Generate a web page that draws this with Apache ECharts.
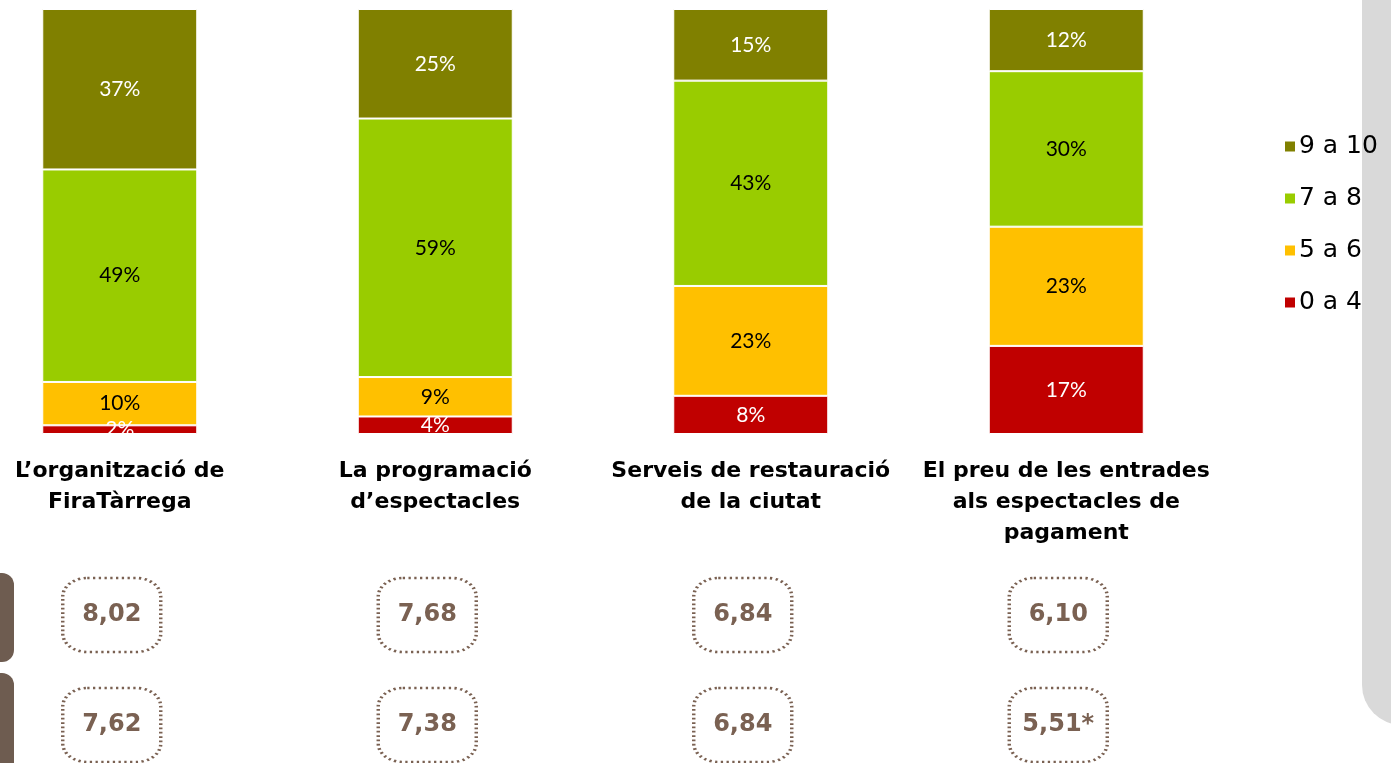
<!DOCTYPE html>
<html>
<head>
<meta charset="utf-8">
<script src="https://cdn.jsdelivr.net/npm/echarts@6/dist/echarts.min.js"></script>
<style>
  html, body { margin: 0; padding: 0; background: #fff; }
  #chart { width: 1391px; height: 763px; }
</style>
</head>
<body>
<div id="chart"></div>
<script>
// categories and series values (percent labels as shown)
var categories = [
  "L\u2019organització de\nFiraTàrrega",
  "La programació\nd\u2019espectacles",
  "Serveis de restauració\nde la ciutat",
  "El preu de les entrades\nals espectacles de\npagament"
];
var seriesNames = ["0 a 4", "5 a 6", "7 a 8", "9 a 10"];
var score0to4 = [2, 4, 8, 17];
var score5to6 = [10, 9, 23, 23];
var score7to8 = [49, 59, 43, 30];
var score9to10 = [37, 25, 15, 12];
var colors = ["#c00000", "#ffc000", "#99cc00", "#808000"];
var labelColors = ["#ffffff", "#000000", "#000000", "#ffffff"];

// average marks under each bar
var rows = ["r1", "r2"];
var meanRow1 = [8.02, 7.68, 6.84, 6.10];
var meanRow2 = [7.62, 7.38, 6.84, 5.51];
var meanRow2Notes = ["", "", "", "*"];

var FONT = "'DejaVu Sans', sans-serif";
var THIN = "Lato, 'DejaVu Sans', sans-serif";
var BROWN = "#7a6152";

var allSeries = [score0to4, score5to6, score7to8, score9to10];
var totals = categories.map(function(c, i) {
  return allSeries.reduce(function(s, arr) { return s + arr[i]; }, 0);
});

function fmtNum(v) {
  return v.toFixed(2).replace(".", ",");
}

var chart = echarts.init(document.getElementById("chart"));

var series = allSeries.map(function(arr, k) {
  return {
    name: seriesNames[k],
    type: "bar",
    stack: "total",
    barWidth: 155,
    data: arr.map(function(v, i) {
      return { value: (v / totals[i]) * 100, raw: v };
    }),
    itemStyle: { color: colors[k], borderColor: "#ffffff", borderWidth: 1 },
    label: {
      show: true,
      position: "inside",
      color: labelColors[k],
      fontFamily: THIN,
      fontSize: 21,
      textBorderWidth: 0,
      formatter: function(p) { return p.data.raw + "%"; }
    }
  };
});

var boxData = [];
meanRow1.forEach(function(v, i) {
  boxData.push({ value: [i, 0], text: fmtNum(v) });
});
meanRow2.forEach(function(v, i) {
  boxData.push({ value: [i, 1], text: fmtNum(v) + meanRow2Notes[i] });
});

series.push({
  type: "scatter",
  xAxisIndex: 1,
  yAxisIndex: 1,
  symbol: "roundRect",
  symbolSize: [98, 74],
  data: boxData,
  silent: true,
  itemStyle: {
    color: "rgba(255,255,255,0)",
    opacity: 1,
    borderColor: BROWN,
    borderWidth: 3,
    borderType: [2, 3]
  },
  label: {
    show: true,
    position: "inside",
    color: BROWN,
    textBorderWidth: 0,
    fontFamily: FONT,
    fontWeight: "bold",
    fontSize: 24,
    formatter: function(p) { return p.data.text; }
  }
});

chart.setOption({
  animation: false,
  grid: [
    { left: -38, width: 1262, top: 9, height: 425, outerBoundsMode: "none", containLabel: false },
    { left: -46, width: 1262, top: 560, height: 220, outerBoundsMode: "none", containLabel: false }
  ],
  legend: {
    orient: "vertical",
    left: 1278,
    top: 129,
    itemWidth: 12,
    itemHeight: 12,
    itemGap: 27,
    icon: "rect",
    data: ["9 a 10", "7 a 8", "5 a 6", "0 a 4"],
    textStyle: { fontFamily: FONT, fontSize: 25, color: "#000", padding: [0, 0, 0, -2] }
  },
  xAxis: [
    {
      type: "category",
      data: categories,
      gridIndex: 0,
      axisLine: { show: false },
      axisTick: { show: false },
      axisLabel: {
        interval: 0,
        margin: 22,
        fontFamily: FONT,
        fontWeight: "bold",
        fontSize: 22,
        lineHeight: 31,
        color: "#000"
      }
    },
    {
      type: "category",
      data: categories,
      gridIndex: 1,
      show: false
    }
  ],
  yAxis: [
    { type: "value", gridIndex: 0, min: 0, max: 100, show: false },
    { type: "category", gridIndex: 1, data: rows, inverse: true, show: false }
  ],
  graphic: [
    { type: "rect", left: 1362, top: -20, shape: { width: 60, height: 745, r: [0, 0, 0, 40] }, style: { fill: "#d9d9d9" }, z: -1 },
    { type: "rect", left: -16, top: 573, shape: { width: 30, height: 89, r: 12 }, style: { fill: "#6e5c50" } },
    { type: "rect", left: -16, top: 673, shape: { width: 30, height: 110, r: 12 }, style: { fill: "#6e5c50" } }
  ],
  series: series
});
</script>
</body>
</html>
